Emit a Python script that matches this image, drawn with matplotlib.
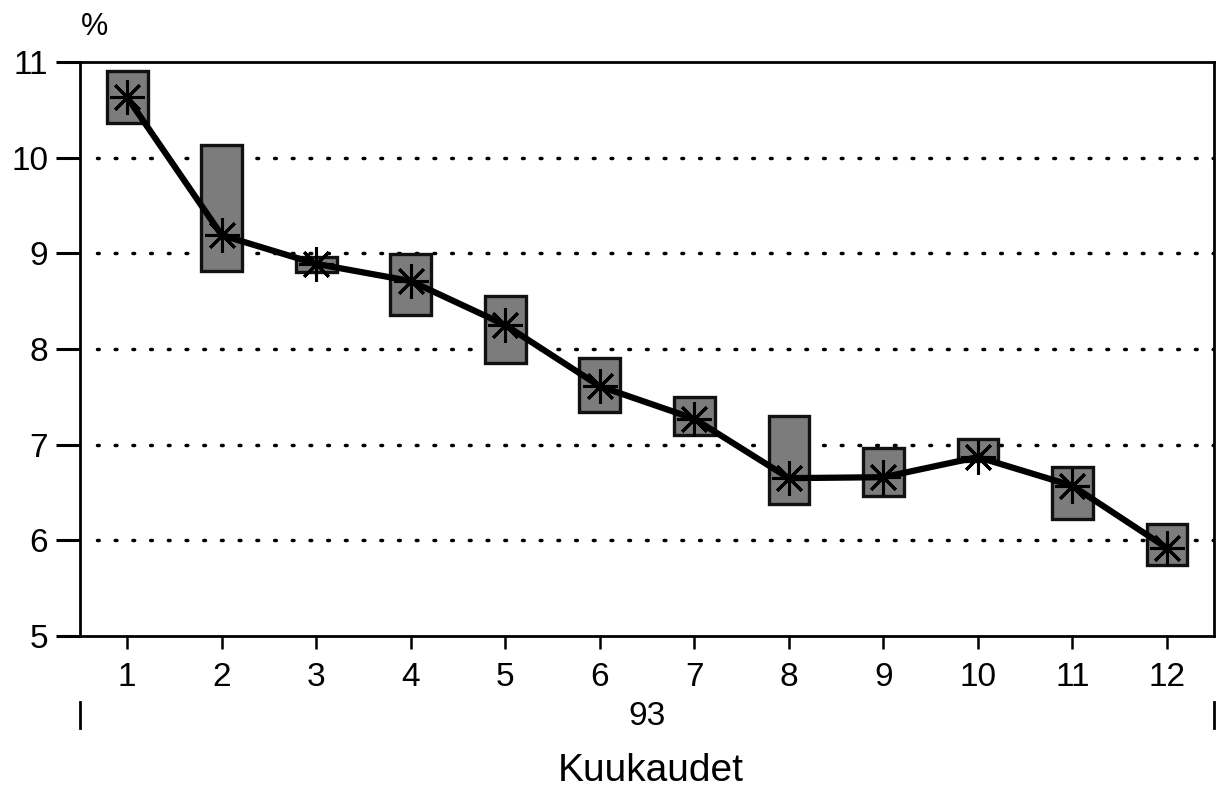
import numpy as np
import matplotlib
matplotlib.use("Agg")
import matplotlib.pyplot as plt

# ------------------------------------------------------------
# Data
# ------------------------------------------------------------
months = [1, 2, 3, 4, 5, 6, 7, 8, 9, 10, 11, 12]
month_labels = ["1", "2", "3", "4", "5", "6", "7", "8", "9", "10", "11", "12"]
values = [10.63, 9.19, 8.89, 8.71, 8.25, 7.61, 7.27, 6.65, 6.66, 6.87, 6.57, 5.92]
highs  = [10.91, 10.13, 8.96, 8.99, 8.55, 7.91, 7.50, 7.30, 6.96, 7.06, 6.77, 6.17]
lows   = [10.36, 8.82, 8.81, 8.36, 7.85, 7.34, 7.10, 6.38, 6.46, 6.83, 6.22, 5.74]
year_label = "93"
y_ticks = [5, 6, 7, 8, 9, 10, 11]
grid_levels = [6, 7, 8, 9, 10]

# ------------------------------------------------------------
# Figure
# ------------------------------------------------------------
plt.rcParams["font.family"] = ["Liberation Sans", "DejaVu Sans"]

fig = plt.figure(figsize=(12.17, 7.93), dpi=100)
ax = fig.add_axes([0.0657, 0.198, 0.932, 0.7238])

# high-low boxes
ax.bar(months, np.array(highs) - np.array(lows), bottom=lows, width=0.43,
       color="#7c7c7c", edgecolor="#111111", linewidth=2.4, zorder=3)

# value line with asterisks
ax.plot(months, values, color="black", linewidth=4.5, zorder=4,
        solid_joinstyle="round")
ax.plot(months, values, linestyle="none", marker=(8, 2, 0), markersize=25,
        markeredgewidth=2.2, color="black", zorder=5)

# dotted gridlines
for g in grid_levels:
    ax.axhline(g, xmin=0.015, xmax=1, color="black", linewidth=2.5,
               linestyle=(0, (0.5, 4.6)), dash_capstyle="round", zorder=1)

ax.set_xlim(0.5, 12.5)
ax.set_ylim(5, 11)
ax.set_xticks(months)
ax.set_xticklabels(month_labels)
ax.set_yticks(y_ticks)

for s in ax.spines.values():
    s.set_linewidth(2)

ax.tick_params(axis="x", direction="out", length=9, width=1.8, pad=10,
               labelsize=24)
ax.tick_params(axis="y", direction="out", length=17, width=2.2, pad=6,
               labelsize=24)

# year annotation below the month labels
trans = ax.get_xaxis_transform()
ax.text(6.5, -0.14, year_label, transform=trans, ha="center", va="center",
        fontsize=24)
for xe in ax.get_xlim():
    ax.plot([xe, xe], [-0.115, -0.16], transform=trans, color="black",
            linewidth=2, clip_on=False)

fig.text(0.535, 0.028, "Kuukaudet", ha="center", va="center", fontsize=28)
fig.text(0.078, 0.966, "%", ha="center", va="center", fontsize=22)

fig.savefig("out.png", dpi=100)
